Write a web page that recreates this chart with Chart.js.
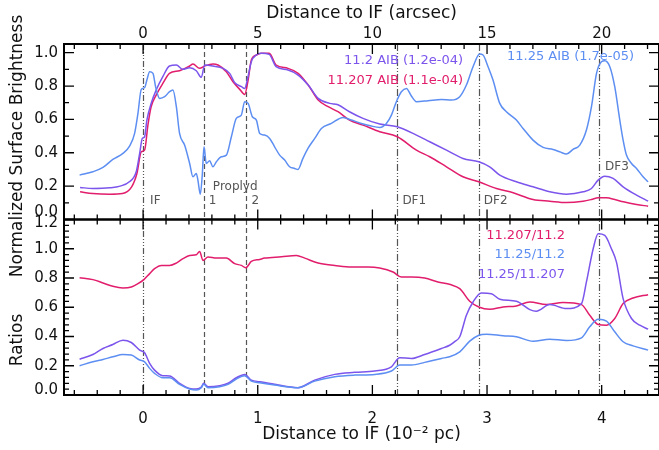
<!DOCTYPE html>
<html>
<head>
<meta charset="utf-8">
<script src="https://cdn.jsdelivr.net/npm/chart.js@4.4.1/dist/chart.umd.min.js"></script>
<style>
  html, body { margin: 0; padding: 0; background: #fff; }
  #wrap { position: relative; width: 659px; height: 450px; }
</style>
</head>
<body>
<div id="wrap"><canvas id="profile" width="659" height="450"></canvas></div>
<script>
// distance to the ionization front, in 10^-2 pc; 1 arcsec = 0.2 of these
const X_MIN = -0.69;
const X_MAX = 4.5;
const ARCSEC_PER_UNIT = 5;

// normalized surface brightness along the cut, [distance, value]
const aib112 = [
  [-0.55, 0.192], [-0.44, 0.186], [-0.29, 0.19], [-0.2, 0.2], [-0.12, 0.226], [-0.06, 0.286],
  [-0.03, 0.396], [-0.007, 0.486], [0.013, 0.496], [0.033, 0.596], [0.07, 0.696], [0.114, 0.776],
  [0.172, 0.856], [0.23, 0.92], [0.29, 0.926], [0.347, 0.9], [0.406, 0.91], [0.464, 0.892],
  [0.508, 0.852], [0.537, 0.926], [0.61, 0.92], [0.698, 0.906], [0.755, 0.876], [0.8, 0.82],
  [0.858, 0.796], [0.886, 0.786], [0.915, 0.856], [0.944, 0.946], [0.988, 0.986], [1.03, 0.996],
  [1.1, 0.99], [1.16, 0.916], [1.264, 0.896], [1.352, 0.866], [1.44, 0.806], [1.527, 0.726],
  [1.627, 0.696], [1.7, 0.688], [1.8, 0.646], [1.918, 0.606], [2.064, 0.572], [2.218, 0.556],
  [2.384, 0.506], [2.5, 0.466], [2.646, 0.416], [2.79, 0.366], [2.928, 0.346], [3.023, 0.316],
  [3.111, 0.266], [3.256, 0.226], [3.401, 0.196], [3.547, 0.166], [3.693, 0.152], [3.838, 0.166],
  [3.911, 0.186], [3.969, 0.236], [4.027, 0.26], [4.1, 0.246], [4.187, 0.196], [4.304, 0.146],
  [4.405, 0.11]
];
const aib11207 = [
  [-0.55, 0.166], [-0.44, 0.156], [-0.29, 0.152], [-0.18, 0.156], [-0.1, 0.196], [-0.054, 0.276],
  [-0.016, 0.406], [0.013, 0.416], [0.042, 0.566], [0.07, 0.676], [0.114, 0.746], [0.172, 0.816],
  [0.23, 0.876], [0.318, 0.892], [0.406, 0.92], [0.435, 0.932], [0.493, 0.906], [0.537, 0.92],
  [0.61, 0.932], [0.653, 0.926], [0.726, 0.886], [0.784, 0.826], [0.843, 0.78], [0.886, 0.75],
  [0.916, 0.836], [0.944, 0.956], [0.988, 0.986], [1.03, 0.996], [1.1, 0.996], [1.16, 0.926],
  [1.264, 0.906], [1.352, 0.876], [1.44, 0.806], [1.527, 0.716], [1.614, 0.676], [1.7, 0.646],
  [1.8, 0.596], [1.918, 0.566], [2.064, 0.526], [2.218, 0.496], [2.384, 0.416], [2.5, 0.376],
  [2.646, 0.316], [2.79, 0.256], [2.928, 0.226], [3.082, 0.186], [3.228, 0.16], [3.401, 0.12],
  [3.547, 0.11], [3.693, 0.102], [3.838, 0.11], [3.911, 0.12], [3.969, 0.13], [4.042, 0.13],
  [4.114, 0.12], [4.19, 0.106], [4.304, 0.09], [4.405, 0.08]
];
const aib1125 = [
  [-0.554, 0.266], [-0.438, 0.286], [-0.35, 0.312], [-0.264, 0.36], [-0.176, 0.396], [-0.118, 0.44],
  [-0.074, 0.516], [-0.045, 0.636], [-0.016, 0.78], [0.013, 0.79], [0.033, 0.836], [0.057, 0.886],
  [0.086, 0.876], [0.109, 0.796], [0.144, 0.726], [0.188, 0.736], [0.231, 0.766], [0.26, 0.776],
  [0.29, 0.676], [0.318, 0.516], [0.362, 0.446], [0.406, 0.336], [0.435, 0.256], [0.464, 0.276],
  [0.478, 0.236], [0.499, 0.152], [0.517, 0.276], [0.531, 0.436], [0.551, 0.336], [0.58, 0.352],
  [0.609, 0.316], [0.639, 0.346], [0.682, 0.376], [0.726, 0.386], [0.77, 0.496], [0.813, 0.606],
  [0.857, 0.626], [0.886, 0.706], [0.916, 0.696], [0.953, 0.616], [0.988, 0.596], [1.017, 0.516],
  [1.06, 0.506], [1.104, 0.486], [1.147, 0.436], [1.191, 0.386], [1.235, 0.356], [1.278, 0.316],
  [1.322, 0.306], [1.351, 0.3], [1.394, 0.366], [1.438, 0.426], [1.497, 0.486], [1.555, 0.546],
  [1.642, 0.576], [1.744, 0.612], [1.817, 0.596], [1.904, 0.576], [1.991, 0.56], [2.064, 0.552],
  [2.122, 0.576], [2.166, 0.626], [2.209, 0.706], [2.253, 0.766], [2.297, 0.786], [2.34, 0.74],
  [2.384, 0.706], [2.485, 0.712], [2.602, 0.72], [2.689, 0.716], [2.762, 0.736], [2.82, 0.806],
  [2.878, 0.916], [2.936, 0.992], [2.965, 0.986], [3.009, 0.916], [3.052, 0.836], [3.111, 0.696],
  [3.169, 0.646], [3.256, 0.596], [3.314, 0.546], [3.401, 0.476], [3.489, 0.432], [3.576, 0.42],
  [3.634, 0.406], [3.693, 0.392], [3.75, 0.42], [3.809, 0.446], [3.867, 0.536], [3.911, 0.676],
  [3.955, 0.876], [3.998, 0.946], [4.027, 0.952], [4.071, 0.916], [4.114, 0.796], [4.158, 0.596],
  [4.187, 0.476], [4.216, 0.386], [4.26, 0.336], [4.304, 0.306], [4.361, 0.256], [4.405, 0.226]
];

// band ratios along the same cut
const ratio11207to112 = [
  [-0.554, 0.802], [-0.438, 0.789], [-0.35, 0.766], [-0.264, 0.743], [-0.176, 0.732], [-0.103, 0.738],
  [-0.045, 0.761], [0.007, 0.789], [0.057, 0.83], [0.1, 0.864], [0.159, 0.886], [0.231, 0.886],
  [0.29, 0.902], [0.348, 0.932], [0.406, 0.954], [0.464, 0.959], [0.493, 0.982], [0.522, 0.92],
  [0.566, 0.943], [0.639, 0.936], [0.726, 0.936], [0.799, 0.898], [0.857, 0.886], [0.895, 0.87],
  [0.944, 0.913], [1.017, 0.927], [1.06, 0.936], [1.206, 0.945], [1.337, 0.954], [1.41, 0.936],
  [1.526, 0.902], [1.672, 0.886], [1.817, 0.875], [1.962, 0.875], [2.064, 0.868], [2.18, 0.841],
  [2.253, 0.807], [2.34, 0.807], [2.456, 0.8], [2.572, 0.773], [2.68, 0.755], [2.762, 0.727],
  [2.849, 0.641], [2.928, 0.602], [3.023, 0.586], [3.14, 0.602], [3.256, 0.609], [3.373, 0.636],
  [3.518, 0.618], [3.663, 0.632], [3.824, 0.618], [3.896, 0.545], [3.969, 0.482], [4.042, 0.477],
  [4.114, 0.523], [4.187, 0.625], [4.274, 0.663], [4.405, 0.686]
];
const ratio1125to112 = [
  [-0.554, 0.2], [-0.438, 0.227], [-0.35, 0.243], [-0.264, 0.261], [-0.176, 0.277], [-0.103, 0.273],
  [-0.03, 0.239], [0.013, 0.227], [0.057, 0.182], [0.1, 0.148], [0.172, 0.118], [0.231, 0.118],
  [0.318, 0.073], [0.406, 0.041], [0.464, 0.034], [0.508, 0.05], [0.528, 0.073], [0.566, 0.05],
  [0.668, 0.057], [0.741, 0.073], [0.813, 0.109], [0.886, 0.132], [0.944, 0.095], [1.017, 0.084],
  [1.147, 0.068], [1.351, 0.05], [1.497, 0.095], [1.672, 0.125], [1.846, 0.136], [2.02, 0.141],
  [2.166, 0.164], [2.238, 0.205], [2.34, 0.205], [2.456, 0.223], [2.602, 0.25], [2.674, 0.262],
  [2.762, 0.295], [2.849, 0.368], [2.928, 0.409], [2.995, 0.416], [3.14, 0.405], [3.256, 0.398],
  [3.401, 0.368], [3.547, 0.382], [3.693, 0.373], [3.824, 0.391], [3.896, 0.466], [3.969, 0.518],
  [4.042, 0.505], [4.114, 0.432], [4.187, 0.364], [4.274, 0.336], [4.405, 0.307]
];
const ratio1125to11207 = [
  [-0.554, 0.245], [-0.438, 0.277], [-0.35, 0.318], [-0.264, 0.345], [-0.176, 0.375], [-0.103, 0.359],
  [-0.03, 0.307], [0.013, 0.289], [0.057, 0.216], [0.1, 0.17], [0.172, 0.132], [0.231, 0.13],
  [0.318, 0.08], [0.406, 0.045], [0.464, 0.041], [0.508, 0.055], [0.528, 0.08], [0.566, 0.057],
  [0.668, 0.064], [0.741, 0.08], [0.813, 0.118], [0.886, 0.141], [0.944, 0.102], [1.017, 0.091],
  [1.147, 0.073], [1.351, 0.05], [1.497, 0.102], [1.672, 0.141], [1.846, 0.155], [2.02, 0.164],
  [2.166, 0.193], [2.238, 0.255], [2.34, 0.25], [2.456, 0.277], [2.602, 0.318], [2.674, 0.34],
  [2.718, 0.365], [2.762, 0.398], [2.82, 0.545], [2.878, 0.636], [2.95, 0.698], [3.038, 0.693],
  [3.111, 0.655], [3.256, 0.641], [3.373, 0.584], [3.43, 0.573], [3.547, 0.618], [3.693, 0.591],
  [3.824, 0.625], [3.867, 0.773], [3.926, 1.0], [3.969, 1.102], [4.027, 1.091], [4.085, 1.0],
  [4.129, 0.909], [4.187, 0.659], [4.26, 0.523], [4.333, 0.477], [4.405, 0.45]
];

// features crossed by the cut
const markerX = [0, 0.53, 0.894, 2.218, 2.928, 3.977];
const markerNames = ['IF', '1', '2', 'DF1', 'DF2', 'DF3'];
const proplydLabel = 'Proplyd';

const brightnessLegend = ['11.2 AIB (1.2e-04)', '11.207 AIB (1.1e-04)', '11.25 AIB (1.7e-05)'];
const ratioLegend = ['11.207/11.2', '11.25/11.2', '11.25/11.207'];

const PURPLE = '#7c55ec';
const RED = '#e11d6c';
const BLUE = '#5d8ef2';
const INK = '#111';
const GREY = '#555';
const FONT = '"DejaVu Sans", sans-serif';

// dash styles: IF dash-dot-dot-dot, proplyds dashed, dark filaments dash-dot-dot
const markerDash = [
  [6, 2, 1, 2, 1, 2, 1, 2], [5, 3], [5, 3], [7, 2, 1, 2, 1, 2], [7, 2, 1, 2, 1, 2], [7, 2, 1, 2, 1, 2]
];

const toPoints = arr => arr.map(([x, y]) => ({ x, y }));

function line(arr, color, yAxisID) {
  return {
    data: toPoints(arr),
    borderColor: color,
    borderWidth: 1.5,
    pointRadius: 0,
    fill: false,
    cubicInterpolationMode: 'monotone',
    xAxisID: 'x',
    yAxisID
  };
}

// inward tick marks along a horizontal edge
function hTicks(ctx, scale, y, dir, minor, major) {
  const k0 = Math.ceil(scale.min / minor - 1e-6);
  const k1 = Math.floor(scale.max / minor + 1e-6);
  for (let k = k0; k <= k1; k++) {
    const v = k * minor;
    const isMajor = Math.abs(v / major - Math.round(v / major)) < 1e-6;
    const px = scale.getPixelForValue(v);
    ctx.moveTo(px, y);
    ctx.lineTo(px, y + dir * (isMajor ? 10 : 5));
  }
}

// inward tick marks along a vertical edge
function vTicks(ctx, scale, x, dir, minor, major) {
  const k0 = Math.ceil(scale.min / minor - 1e-6);
  const k1 = Math.floor(scale.max / minor + 1e-6);
  for (let k = k0; k <= k1; k++) {
    const v = k * minor;
    const isMajor = Math.abs(v / major - Math.round(v / major)) < 1e-6;
    const py = scale.getPixelForValue(v);
    ctx.moveTo(x, py);
    ctx.lineTo(x + dir * (isMajor ? 10 : 5), py);
  }
}

function yLabels(ctx, scale, nudgeMin, nudgeMax) {
  ctx.textAlign = 'right';
  ctx.textBaseline = 'middle';
  scale.ticks.forEach(t => {
    let py = scale.getPixelForValue(t.value);
    if (Math.abs(t.value - scale.min) < 1e-6) py += nudgeMin;
    if (Math.abs(t.value - scale.max) < 1e-6) py += nudgeMax;
    ctx.fillText(t.value.toFixed(1), scale.right - 6, py);
  });
}

function rotatedText(ctx, text, x, y) {
  ctx.save();
  ctx.translate(x, y);
  ctx.rotate(-Math.PI / 2);
  ctx.textAlign = 'center';
  ctx.textBaseline = 'middle';
  ctx.fillText(text, 0, 0);
  ctx.restore();
}

const panelFrame = {
  id: 'panelFrame',
  beforeDatasetsDraw(chart) {
    const { ctx, chartArea, scales } = chart;
    ctx.save();
    ctx.strokeStyle = GREY;
    ctx.lineWidth = 1.2;
    markerX.forEach((v, i) => {
      const px = Math.round(scales.x.getPixelForValue(v)) + 0.5;
      ctx.setLineDash(markerDash[i]);
      ctx.beginPath();
      ctx.moveTo(px, chartArea.top);
      ctx.lineTo(px, chartArea.bottom);
      ctx.stroke();
    });
    ctx.restore();
  },
  afterDatasetsDraw(chart) {
    const { ctx, chartArea, scales } = chart;
    const { x, xTop, yBright, yRatio } = scales;
    const L = chartArea.left, R = chartArea.right;
    ctx.save();

    // panel boxes
    ctx.strokeStyle = '#000';
    ctx.lineWidth = 2;
    ctx.strokeRect(L, yBright.top, R - L, yBright.bottom - yBright.top);
    ctx.strokeRect(L, yRatio.top, R - L, yRatio.bottom - yRatio.top);

    ctx.lineWidth = 1.3;
    ctx.beginPath();
    hTicks(ctx, xTop, yBright.top, 1, 1, 5);
    hTicks(ctx, x, yBright.bottom, -1, 0.2, 1);
    hTicks(ctx, x, yRatio.top, 1, 0.2, 1);
    hTicks(ctx, x, yRatio.bottom, -1, 0.2, 1);
    vTicks(ctx, yBright, L, 1, 0.1, 0.2);
    vTicks(ctx, yBright, R, -1, 0.1, 0.2);
    vTicks(ctx, yRatio, L, 1, 0.04, 0.2);
    vTicks(ctx, yRatio, R, -1, 0.04, 0.2);
    ctx.stroke();

    // y tick labels
    ctx.fillStyle = INK;
    ctx.font = '15px ' + FONT;
    yLabels(ctx, yBright, -7, 0);
    yLabels(ctx, yRatio, -5, 4);

    // y titles
    ctx.font = '17px ' + FONT;
    rotatedText(ctx, 'Normalized Surface Brightness', 18, 146);
    rotatedText(ctx, 'Ratios', 18, 340);

    // feature labels
    ctx.fillStyle = GREY;
    ctx.font = '12px ' + FONT;
    ctx.textAlign = 'left';
    ctx.textBaseline = 'middle';
    const low = yBright.getPixelForValue(0.11);
    const offsets = [7, 5, 6, 5, 5, 6];
    markerNames.forEach((name, i) => {
      const px = x.getPixelForValue(markerX[i]) + offsets[i];
      const py = name === 'DF3' ? yBright.getPixelForValue(0.315) : low;
      ctx.fillText(name, px, py);
    });
    ctx.fillText(proplydLabel, x.getPixelForValue(markerX[1]) + 9, yBright.getPixelForValue(0.195));

    // line keys
    ctx.font = '13px ' + FONT;
    ctx.textAlign = 'right';
    ctx.fillStyle = PURPLE;
    ctx.fillText(brightnessLegend[0], 463, 61);
    ctx.fillStyle = RED;
    ctx.fillText(brightnessLegend[1], 463, 81);
    ctx.textAlign = 'left';
    ctx.fillStyle = BLUE;
    ctx.fillText(brightnessLegend[2], 507, 57);

    ctx.textAlign = 'right';
    ctx.fillStyle = RED;
    ctx.fillText(ratioLegend[0], 565, 236);
    ctx.fillStyle = BLUE;
    ctx.fillText(ratioLegend[1], 565, 255);
    ctx.fillStyle = PURPLE;
    ctx.fillText(ratioLegend[2], 565, 275);

    ctx.restore();
  }
};

const hiddenGrid = { display: false, drawTicks: false };

new Chart(document.getElementById('profile'), {
  type: 'line',
  data: {
    datasets: [
      line(aib1125, BLUE, 'yBright'),
      line(aib112, PURPLE, 'yBright'),
      line(aib11207, RED, 'yBright'),
      line(ratio1125to112, BLUE, 'yRatio'),
      line(ratio1125to11207, PURPLE, 'yRatio'),
      line(ratio11207to112, RED, 'yRatio')
    ]
  },
  options: {
    responsive: false,
    animation: false,
    layout: { padding: 0 },
    plugins: { legend: { display: false }, tooltip: { enabled: false } },
    scales: {
      x: {
        type: 'linear',
        position: 'bottom',
        min: X_MIN,
        max: X_MAX,
        grid: hiddenGrid,
        border: { display: false },
        ticks: {
          stepSize: 1, includeBounds: false, padding: 15, color: INK,
          font: { family: FONT, size: 15 },
          callback: v => String(Math.round(v))
        },
        title: {
          display: true, text: 'Distance to IF (10⁻² pc)', color: INK,
          font: { family: FONT, size: 17 }, padding: { top: 0, bottom: 5 }
        },
        afterFit: s => { s.height = 55; }
      },
      xTop: {
        type: 'linear',
        position: 'top',
        min: X_MIN * ARCSEC_PER_UNIT,
        max: X_MAX * ARCSEC_PER_UNIT,
        grid: hiddenGrid,
        border: { display: false },
        ticks: {
          stepSize: 5, includeBounds: false, padding: 1, color: INK,
          font: { family: FONT, size: 15 },
          callback: v => String(Math.round(v))
        },
        title: {
          display: true, text: 'Distance to IF (arcsec)', color: INK,
          font: { family: FONT, size: 17 }, padding: { top: 3, bottom: 0 }
        },
        afterFit: s => { s.height = 44; }
      },
      yRatio: {
        type: 'linear',
        position: 'left',
        stack: 'panels',
        stackWeight: 1,
        min: 0,
        max: 1.2,
        grid: hiddenGrid,
        border: { display: false },
        ticks: { stepSize: 0.2, includeBounds: false, display: false },
        afterFit: s => { s.width = 64; }
      },
      yBright: {
        type: 'linear',
        position: 'left',
        stack: 'panels',
        stackWeight: 1,
        min: 0,
        max: 1.052,
        grid: hiddenGrid,
        border: { display: false },
        ticks: { stepSize: 0.2, includeBounds: false, display: false },
        afterFit: s => { s.width = 64; }
      }
    }
  },
  plugins: [panelFrame]
});
</script>
</body>
</html>
